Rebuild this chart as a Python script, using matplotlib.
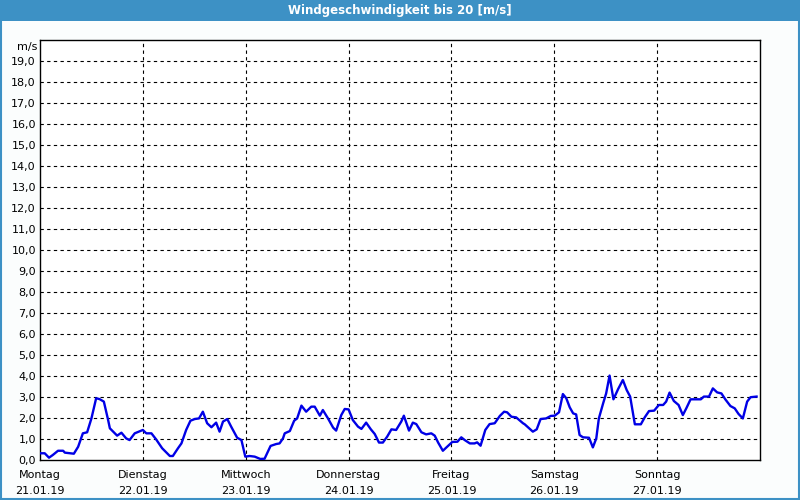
import matplotlib.pyplot as plt
from matplotlib.patches import Rectangle

# hours since Monday 00:00 and wind speed in m/s
hours = [0.2, 1.1, 2.1, 3.0, 4.2, 5.4, 5.8, 7.9, 8.9, 10.0, 11.0, 12.0, 13.1, 13.9, 14.9,
         15.9, 16.3, 18.0, 19.0, 20.1, 20.9, 22.1, 24.0, 24.8, 26.0, 27.1, 28.5, 30.3,
         31.0, 32.2, 33.0, 34.1, 35.1, 36.1, 37.1, 38.0, 39.0, 40.0, 41.1, 41.9, 42.7,
         43.7, 44.6, 46.0, 47.0, 47.9, 48.9, 50.1, 51.4, 52.4, 53.8, 55.1, 55.9, 56.7,
         57.1, 58.3, 59.3, 60.0, 61.0, 62.1, 63.3, 64.1, 65.3, 66.0, 67.2, 68.4, 69.1,
         70.3, 71.1, 72.0, 73.0, 74.2, 75.0, 76.1, 77.2, 78.1, 79.1, 80.0, 81.0, 82.0,
         83.1, 84.3, 84.9, 86.1, 87.0, 87.8, 89.0, 90.1, 91.3, 92.1, 92.9, 94.0, 95.0,
         96.2, 97.4, 98.3, 99.1, 100.3, 101.4, 102.0, 102.8, 103.9, 104.9, 106.1, 107.3,
         108.3, 109.0, 110.0, 111.1, 112.7, 113.1, 115.0, 115.9, 116.8, 118.1, 119.2,
         120.1, 121.1, 122.0, 122.8, 123.6, 124.4, 125.1, 125.9, 126.7, 128.1, 129.0,
         129.8, 130.4, 131.4, 132.1, 132.9, 133.8, 134.9, 136.0, 136.9, 137.7, 138.8,
         140.2, 141.1, 142.1, 143.3, 144.4, 145.4, 146.1, 146.9, 147.9, 149.0, 150.0,
         150.8, 151.8, 154.2, 154.9, 156.1, 157.0, 158.0, 159.0, 159.9, 161.1, 162.1,
         163.0, 164.0, 165.0, 165.8, 167.2]
speed = [0.32, 0.32, 0.11, 0.24, 0.44, 0.44, 0.35, 0.30, 0.63, 1.27, 1.32, 1.98, 2.94, 2.90,
         2.78, 1.90, 1.51, 1.16, 1.30, 1.03, 0.95, 1.27, 1.43, 1.27, 1.27, 0.98, 0.56, 0.19,
         0.19, 0.56, 0.79, 1.43, 1.87, 1.95, 1.98, 2.30, 1.75, 1.56, 1.78, 1.35, 1.83, 1.95,
         1.59, 1.06, 0.95, 0.16, 0.19, 0.16, 0.05, 0.06, 0.67, 0.76, 0.79, 1.03, 1.27, 1.38,
         1.87, 1.98, 2.59, 2.30, 2.54, 2.54, 2.11, 2.38, 1.98, 1.54, 1.40, 2.14, 2.43, 2.41,
         1.90, 1.59, 1.48, 1.78, 1.46, 1.24, 0.83, 0.83, 1.11, 1.46, 1.43, 1.83, 2.11, 1.40,
         1.78, 1.71, 1.32, 1.22, 1.27, 1.16, 0.83, 0.44, 0.63, 0.86, 0.87, 1.08, 0.95, 0.79,
         0.79, 0.84, 0.68, 1.43, 1.71, 1.75, 2.10, 2.30, 2.27, 2.06, 2.03, 1.75, 1.70, 1.35,
         1.46, 1.95, 1.98, 2.10, 2.11, 2.27, 3.14, 2.94, 2.51, 2.22, 2.17, 1.19, 1.08, 1.06,
         0.60, 1.03, 1.98, 2.70, 3.17, 4.02, 2.89, 3.38, 3.81, 3.33, 3.02, 1.70, 1.70, 2.03,
         2.33, 2.35, 2.62, 2.62, 2.78, 3.21, 2.81, 2.62, 2.14, 2.46, 2.89, 2.89, 3.02, 3.02,
         3.41, 3.22, 3.17, 2.89, 2.57, 2.46, 2.19, 1.98, 2.78, 2.99, 3.02]

days = ["Montag", "Dienstag", "Mittwoch", "Donnerstag", "Freitag", "Samstag", "Sonntag"]
dates = ["21.01.19", "22.01.19", "23.01.19", "24.01.19", "25.01.19", "26.01.19", "27.01.19"]
y_ticks = list(range(0, 20))

blue = "#3d91c5"
fig = plt.figure(figsize=(8, 5), dpi=100, facecolor="#fbfdfd")

# title bar and frame
fig.patches.append(Rectangle((0, 0.958), 1, 0.042, transform=fig.transFigure,
                             facecolor=blue, edgecolor="none"))
fig.patches.append(Rectangle((0.001, 0.002), 0.998, 0.996, transform=fig.transFigure,
                             facecolor="none", edgecolor=blue, linewidth=1.5))
fig.text(0.5, 0.979, "Windgeschwindigkeit bis 20 [m/s]", color="white",
         ha="center", va="center", fontsize=8.5, fontweight="bold")

ax = fig.add_axes([0.05, 0.08, 0.9, 0.84])
ax.set_facecolor("white")
ax.plot(hours, speed, color="#0000e6", linewidth=1.7, zorder=3)

ax.set_xlim(0, 168)
ax.set_ylim(0, 20)
ax.set_yticks(y_ticks)
ax.set_yticklabels([f"{v},0" for v in y_ticks], fontsize=8)
ax.set_xticks([i * 24 for i in range(7)])
ax.set_xticklabels([f"{d}\n{t}" for d, t in zip(days, dates)], fontsize=8, linespacing=1.75)
ax.tick_params(length=0, pad=3)
ax.tick_params(axis="x", pad=7)

for v in range(1, 20):
    ax.axhline(v, color="black", linestyle=(0, (3, 3)), linewidth=0.8, zorder=1)
for i in range(1, 7):
    ax.axvline(i * 24, color="black", linestyle=(0, (3, 3)), linewidth=0.8, zorder=1)

for s in ax.spines.values():
    s.set_linewidth(1.0)

ax.text(-0.004, 19.65, "m/s", transform=ax.get_yaxis_transform(), ha="right",
        va="center", fontsize=8)

fig.savefig("out.png", dpi=100, facecolor=fig.get_facecolor())
